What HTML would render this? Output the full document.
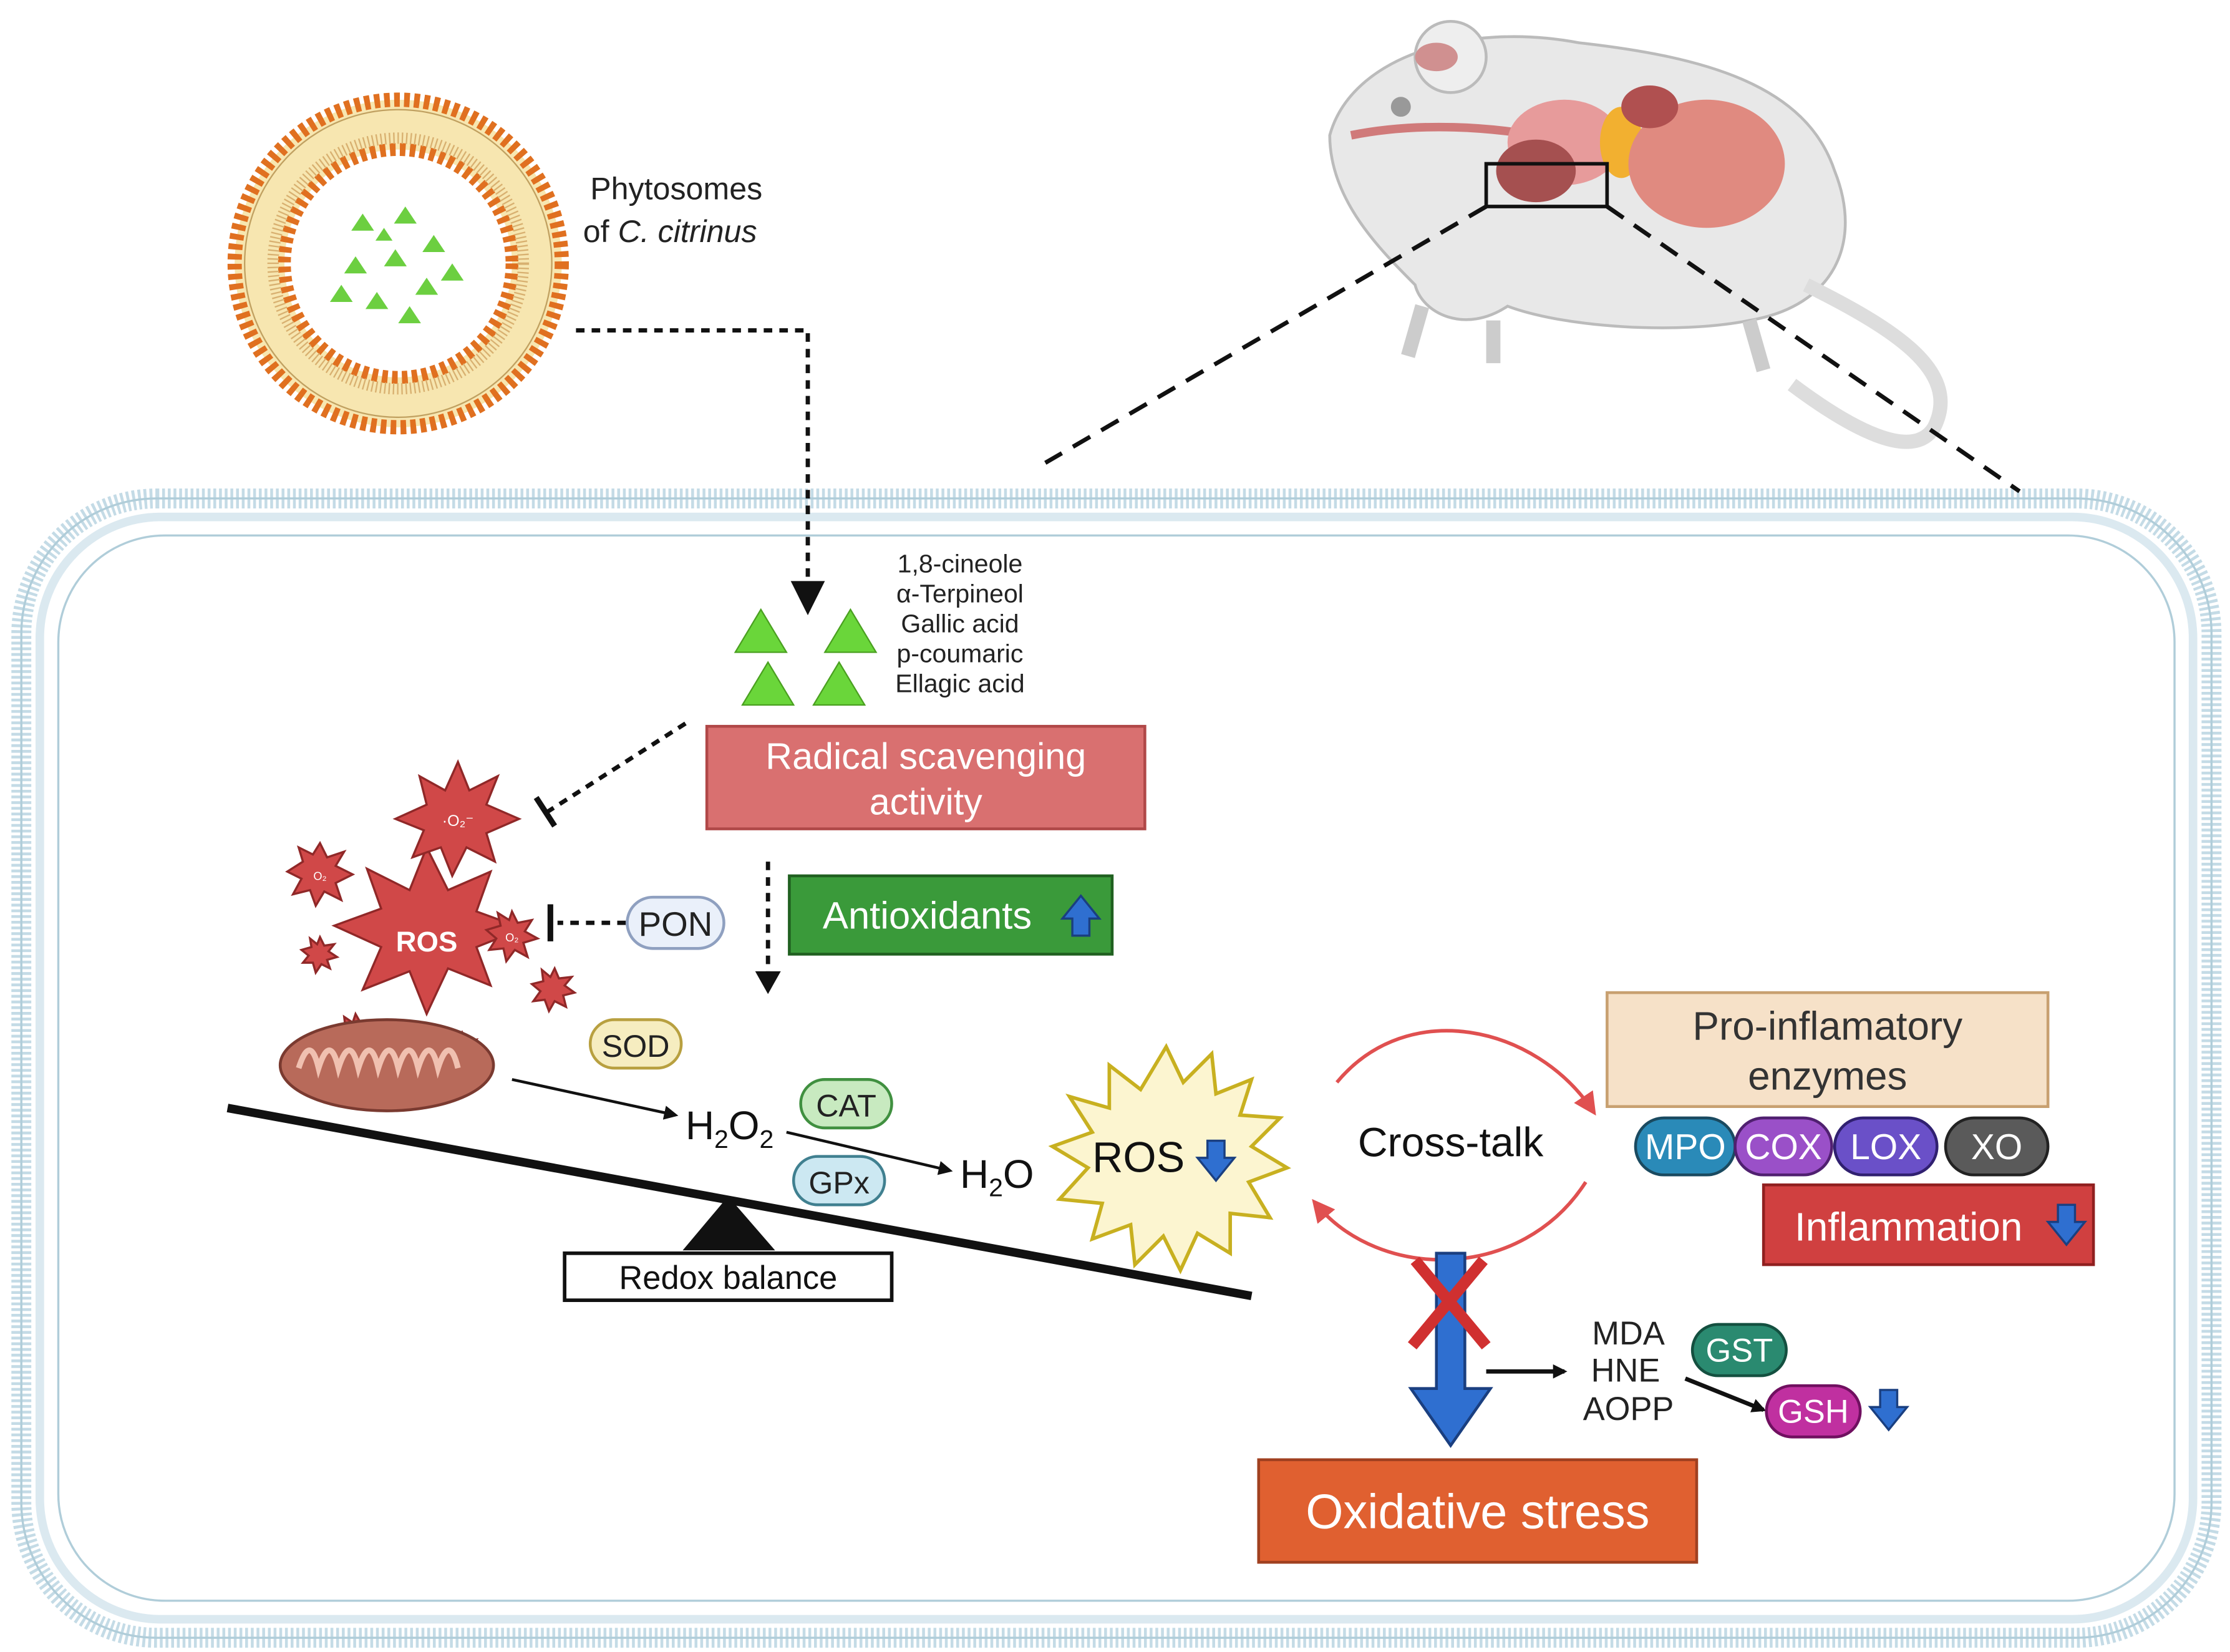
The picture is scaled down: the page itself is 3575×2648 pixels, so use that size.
<!DOCTYPE html>
<html><head><meta charset="utf-8"><style>
html,body{margin:0;padding:0;background:#fff}
svg{display:block}
text{font-family:"Liberation Sans",sans-serif}
</style></head><body>
<svg width="3575" height="2648" viewBox="0 0 1568 1160" preserveAspectRatio="none" xmlns="http://www.w3.org/2000/svg">
<defs>
<marker id="ah" markerWidth="10" markerHeight="10" refX="8" refY="5" orient="auto" markerUnits="userSpaceOnUse"><path d="M0,0 L10,5 L0,10 z" fill="#111"/></marker>
<marker id="ahr" markerWidth="16" markerHeight="16" refX="12" refY="8" orient="auto" markerUnits="userSpaceOnUse"><path d="M0,0 L16,8 L0,16 z" fill="#e05050"/></marker>
<g id="bdown"><path d="M-6,-14 h12 v12 h7 l-13,16 l-13,-16 h7 z" fill="#2f6fd0" stroke="#1a3f80" stroke-width="1.5"/></g>
<g id="bup"><path d="M-6,14 h12 v-12 h7 l-13,-16 l-13,16 h7 z" fill="#2f6fd0" stroke="#1a3f80" stroke-width="1.5"/></g>
</defs>
<rect width="1568" height="1160" fill="#fff"/>

<!-- cell membrane -->
<rect x="15" y="350" width="1540" height="800" rx="95" fill="none" stroke="#c4dbe6" stroke-width="14" stroke-dasharray="2 2"/>
<rect x="15" y="350" width="1540" height="800" rx="95" fill="none" stroke="#b0cdd9" stroke-width="1.5"/>
<rect x="41" y="376" width="1488" height="748" rx="75" fill="none" stroke="#b0cdd9" stroke-width="1.5"/>
<rect x="28" y="363" width="1514" height="774" rx="85" fill="none" stroke="#dbe9f0" stroke-width="6"/>

<!-- phytosome -->
<circle cx="280" cy="185" r="115" fill="#f7e6b0" stroke="#e07020" stroke-width="10" stroke-dasharray="4 3"/>
<circle cx="280" cy="185" r="108" fill="none" stroke="#c0a060" stroke-width="1"/>
<circle cx="280" cy="185" r="80" fill="#fff" stroke="#e07020" stroke-width="9" stroke-dasharray="4 3"/>
<circle cx="280" cy="185" r="88" fill="none" stroke="#d8b070" stroke-width="8" stroke-dasharray="1 2"/>
<g fill="#6ccf40">
<path d="M255,150 l8,12 h-16z"/><path d="M285,145 l8,12 h-16z"/><path d="M305,165 l8,12 h-16z"/>
<path d="M250,180 l8,12 h-16z"/><path d="M278,175 l8,12 h-16z"/><path d="M300,195 l8,12 h-16z"/>
<path d="M265,205 l8,12 h-16z"/><path d="M288,215 l8,12 h-16z"/><path d="M240,200 l8,12 h-16z"/>
<path d="M318,185 l8,12 h-16z"/><path d="M270,160 l6,9 h-12z"/>
</g>
<text x="415" y="140" font-size="22" fill="#222">Phytosomes</text>
<text x="410" y="170" font-size="22" fill="#222">of <tspan font-style="italic">C. citrinus</tspan></text>
<path d="M405,232 H568 V415" fill="none" stroke="#111" stroke-width="3" stroke-dasharray="6 5"/>
<path d="M556,408 L568,432 L580,408 z" fill="#111"/>

<!-- mouse -->
<g>
<path d="M935,95 C950,40 1030,15 1110,30 C1200,40 1270,60 1290,120 C1310,170 1290,215 1230,225 C1180,235 1100,230 1060,215 C1030,235 1000,220 995,200 C970,175 935,140 935,95z" fill="#e8e8e8" stroke="#bbb" stroke-width="2"/>
<path d="M1270,200 C1330,230 1380,260 1360,300 C1345,325 1300,300 1260,270" fill="none" stroke="#ddd" stroke-width="10"/>
<ellipse cx="1020" cy="40" rx="25" ry="25" fill="#eee" stroke="#bbb" stroke-width="2"/>
<circle cx="985" cy="75" r="7" fill="#999"/>
<path d="M950,95 C1000,85 1050,90 1080,95" fill="none" stroke="#d07a7a" stroke-width="6"/>
<ellipse cx="1100" cy="100" rx="40" ry="30" fill="#e79b9b"/>
<ellipse cx="1080" cy="120" rx="28" ry="22" fill="#a55050"/>
<ellipse cx="1140" cy="100" rx="15" ry="25" fill="#f2b030"/>
<ellipse cx="1200" cy="115" rx="55" ry="45" fill="#e08a80"/>
<ellipse cx="1160" cy="75" rx="20" ry="15" fill="#b05050"/>
<ellipse cx="1010" cy="40" rx="15" ry="10" fill="#d09090"/>
<path d="M1000,215 l-10,35 M1050,225 l0,30 M1230,225 l10,35" stroke="#ccc" stroke-width="10"/>
<rect x="1045" y="115" width="85" height="30" fill="none" stroke="#111" stroke-width="2.5"/>
</g>
<path d="M1045,145 L735,325" stroke="#111" stroke-width="3" stroke-dasharray="14 9"/>
<path d="M1130,145 L1420,345" stroke="#111" stroke-width="3" stroke-dasharray="14 9"/>

<!-- triangles and compounds -->
<g fill="#6ad63a" stroke="#4aa020" stroke-width="1">
<path d="M535,428 l18,30 h-36z"/><path d="M598,428 l18,30 h-36z"/>
<path d="M540,465 l18,30 h-36z"/><path d="M590,465 l18,30 h-36z"/>
</g>
<g font-size="18" fill="#222" text-anchor="middle">
<text x="675" y="402">1,8-cineole</text><text x="675" y="423">α-Terpineol</text>
<text x="675" y="444">Gallic acid</text><text x="675" y="465">p-coumaric</text><text x="675" y="486">Ellagic acid</text>
</g>
<rect x="497" y="510" width="308" height="72" fill="#d97070" stroke="#b04848" stroke-width="2"/>
<text x="651" y="540" font-size="26" fill="#fff" text-anchor="middle">Radical scavenging</text>
<text x="651" y="572" font-size="26" fill="#fff" text-anchor="middle">activity</text>
<path d="M482,508 L385,570" stroke="#111" stroke-width="3" stroke-dasharray="6 5"/>
<path d="M377,560 L390,580" stroke="#111" stroke-width="4"/>

<!-- red stars -->
<g fill="#d04848" stroke="#902828" stroke-width="1.5">
<polygon points="300,595 315,625 345,612 335,640 368,652 335,665 345,692 315,680 300,712 288,682 255,695 268,665 235,650 268,638 258,610 288,625"/>
<polygon points="322,535 330,555 350,545 342,565 365,575 342,585 348,605 328,595 318,615 310,595 290,602 298,583 278,575 300,565 295,545 313,555"/>
<polygon points="225,592 230,602 242,598 236,608 248,614 236,620 240,632 228,626 222,636 218,625 206,628 212,617 202,612 213,605 210,595 220,600"/>
<polygon points="360,640 364,648 374,646 369,654 378,659 368,662 371,672 362,667 356,675 354,666 344,667 349,659 342,653 352,650 350,641 358,646"/>
<polygon points="390,680 393,687 402,686 397,692 404,697 396,699 398,707 390,703 386,710 383,702 375,703 380,696 374,691 382,689 381,681 387,686"/>
<polygon points="225,658 228,664 235,663 231,668 237,672 230,674 232,680 226,677 222,683 220,676 213,676 217,671 212,667 219,665 218,659 223,663"/>
<polygon points="250,712 254,719 262,718 258,724 265,729 257,731 259,739 251,735 247,742 244,734 236,735 241,729 235,724 243,722 242,714 248,718"/>
<polygon points="325,725 328,731 335,730 331,736 337,740 330,742 332,749 325,746 321,752 319,745 312,746 316,740 311,735 318,733 317,727 322,731"/>
</g>
<text x="300" y="668" font-size="20" font-weight="bold" fill="#fff" text-anchor="middle">ROS</text>
<text x="322" y="580" font-size="11" fill="#fff" text-anchor="middle">·O₂⁻</text>
<text x="225" y="618" font-size="8" fill="#fff" text-anchor="middle">O₂</text>
<text x="360" y="661" font-size="8" fill="#fff" text-anchor="middle">O₂</text>

<!-- PON -->
<path d="M440,648 L392,648" stroke="#111" stroke-width="3" stroke-dasharray="6 5"/>
<path d="M387,635 L387,661" stroke="#111" stroke-width="4"/>
<rect x="441" y="630" width="68" height="36" rx="18" fill="#eaf0fa" stroke="#8fa0c0" stroke-width="2"/>
<text x="475" y="657" font-size="24" fill="#222" text-anchor="middle">PON</text>

<path d="M540,605 V685" stroke="#111" stroke-width="3" stroke-dasharray="6 5"/>
<path d="M531,682 L540,698 L549,682z" fill="#111"/>
<rect x="555" y="615" width="227" height="55" fill="#3a9a3a" stroke="#206020" stroke-width="2"/>
<text x="652" y="652" font-size="27" fill="#fff" text-anchor="middle">Antioxidants</text>
<use href="#bup" x="760" y="643"/>

<!-- mitochondria -->
<ellipse cx="272" cy="748" rx="75" ry="32" fill="#b86a5a" stroke="#7a3a30" stroke-width="2"/>
<path d="M210,750 q8,-25 14,0 q8,-25 14,0 q8,-25 14,0 q8,-25 14,0 q8,-25 14,0 q8,-25 14,0 q8,-25 14,0 q8,-25 14,0" fill="none" stroke="#f0c0b0" stroke-width="4"/>

<rect x="415" y="716" width="64" height="34" rx="17" fill="#f6edc0" stroke="#b8a040" stroke-width="2"/>
<text x="447" y="742" font-size="22" fill="#222" text-anchor="middle">SOD</text>
<path d="M360,758 L475,783" stroke="#111" stroke-width="2" marker-end="url(#ah)"/>
<text x="482" y="800" font-size="28" fill="#111">H<tspan font-size="18" dy="6">2</tspan><tspan dy="-6">O</tspan><tspan font-size="18" dy="6">2</tspan></text>
<rect x="563" y="758" width="64" height="34" rx="17" fill="#c8eac0" stroke="#409040" stroke-width="2"/>
<text x="595" y="784" font-size="22" fill="#222" text-anchor="middle">CAT</text>
<rect x="558" y="812" width="64" height="34" rx="17" fill="#cce8f2" stroke="#408090" stroke-width="2"/>
<text x="590" y="838" font-size="22" fill="#222" text-anchor="middle">GPx</text>
<path d="M553,795 L668,822" stroke="#111" stroke-width="2" marker-end="url(#ah)"/>
<text x="675" y="834" font-size="28" fill="#111">H<tspan font-size="18" dy="6">2</tspan><tspan dy="-6">O</tspan></text>

<!-- seesaw -->
<path d="M160,778 L880,910" stroke="#111" stroke-width="6"/>
<path d="M512,840 L545,878 L480,878z" fill="#111"/>
<rect x="397" y="880" width="230" height="33" fill="#fff" stroke="#111" stroke-width="2.5"/>
<text x="512" y="905" font-size="23" fill="#111" text-anchor="middle">Redox balance</text>

<!-- yellow ROS -->
<polygon points="820,735 832,760 852,740 855,768 880,758 872,783 900,785 880,805 905,820 878,830 893,855 865,852 865,880 842,866 830,892 818,868 798,888 795,860 768,870 775,845 745,842 765,820 740,805 768,795 752,770 780,778 780,748 802,765" fill="#fcf5d0" stroke="#c8b020" stroke-width="2.5"/>
<text x="768" y="823" font-size="30" fill="#111">ROS</text>
<use href="#bdown" x="855" y="815"/>

<!-- cross-talk -->
<path d="M940,760 C990,700 1080,720 1120,780" fill="none" stroke="#e05050" stroke-width="2.5" marker-end="url(#ahr)"/>
<path d="M1115,830 C1070,900 970,900 925,845" fill="none" stroke="#e05050" stroke-width="2.5" marker-end="url(#ahr)"/>
<text x="1020" y="812" font-size="29" fill="#111" text-anchor="middle">Cross-talk</text>

<rect x="1130" y="697" width="310" height="80" fill="#f6e1c8" stroke="#c8a070" stroke-width="2"/>
<text x="1285" y="730" font-size="28" fill="#333" text-anchor="middle">Pro-inflamatory</text>
<text x="1285" y="765" font-size="28" fill="#333" text-anchor="middle">enzymes</text>
<g font-size="25" fill="#fff" text-anchor="middle">
<rect x="1150" y="785" width="70" height="40" rx="20" fill="#2a8ab8" stroke="#1a4a60" stroke-width="2"/><text x="1185" y="814">MPO</text>
<rect x="1220" y="785" width="68" height="40" rx="20" fill="#9a50c8" stroke="#502070" stroke-width="2"/><text x="1254" y="814">COX</text>
<rect x="1290" y="785" width="72" height="40" rx="20" fill="#6a50c8" stroke="#302070" stroke-width="2"/><text x="1326" y="814">LOX</text>
<rect x="1368" y="785" width="72" height="40" rx="20" fill="#5a5a5a" stroke="#222" stroke-width="2"/><text x="1404" y="814">XO</text>
</g>
<rect x="1240" y="832" width="232" height="56" fill="#d04040" stroke="#902020" stroke-width="2"/>
<text x="1342" y="871" font-size="28" fill="#fff" text-anchor="middle">Inflammation</text>
<use href="#bdown" x="1453" y="860"/>

<!-- oxidative stress path -->
<path d="M1010,880 h20 v95 h18 l-28,40 l-28,-40 h18z" fill="#2f6fd0" stroke="#1a3f80" stroke-width="2"/>
<path d="M995,885 L1045,945 M1043,885 L993,945" stroke="#d03030" stroke-width="8"/>
<path d="M1045,963 L1100,963" stroke="#111" stroke-width="3" marker-end="url(#ah)"/>
<g font-size="23" fill="#222" text-anchor="middle">
<text x="1145" y="944">MDA</text><text x="1143" y="970">HNE</text><text x="1145" y="997">AOPP</text>
</g>
<rect x="1190" y="930" width="66" height="36" rx="18" fill="#2a8a70" stroke="#145040" stroke-width="2"/>
<text x="1223" y="956" font-size="23" fill="#fff" text-anchor="middle">GST</text>
<path d="M1185,968 L1240,990" stroke="#111" stroke-width="3" marker-end="url(#ah)"/>
<rect x="1242" y="973" width="66" height="36" rx="18" fill="#c030a0" stroke="#701060" stroke-width="2"/>
<text x="1275" y="999" font-size="23" fill="#fff" text-anchor="middle">GSH</text>
<use href="#bdown" x="1328" y="990"/>
<rect x="885" y="1025" width="308" height="72" fill="#e06030" stroke="#a04020" stroke-width="2"/>
<text x="1039" y="1073" font-size="34" fill="#fff" text-anchor="middle">Oxidative stress</text>
</svg>
</body></html>
